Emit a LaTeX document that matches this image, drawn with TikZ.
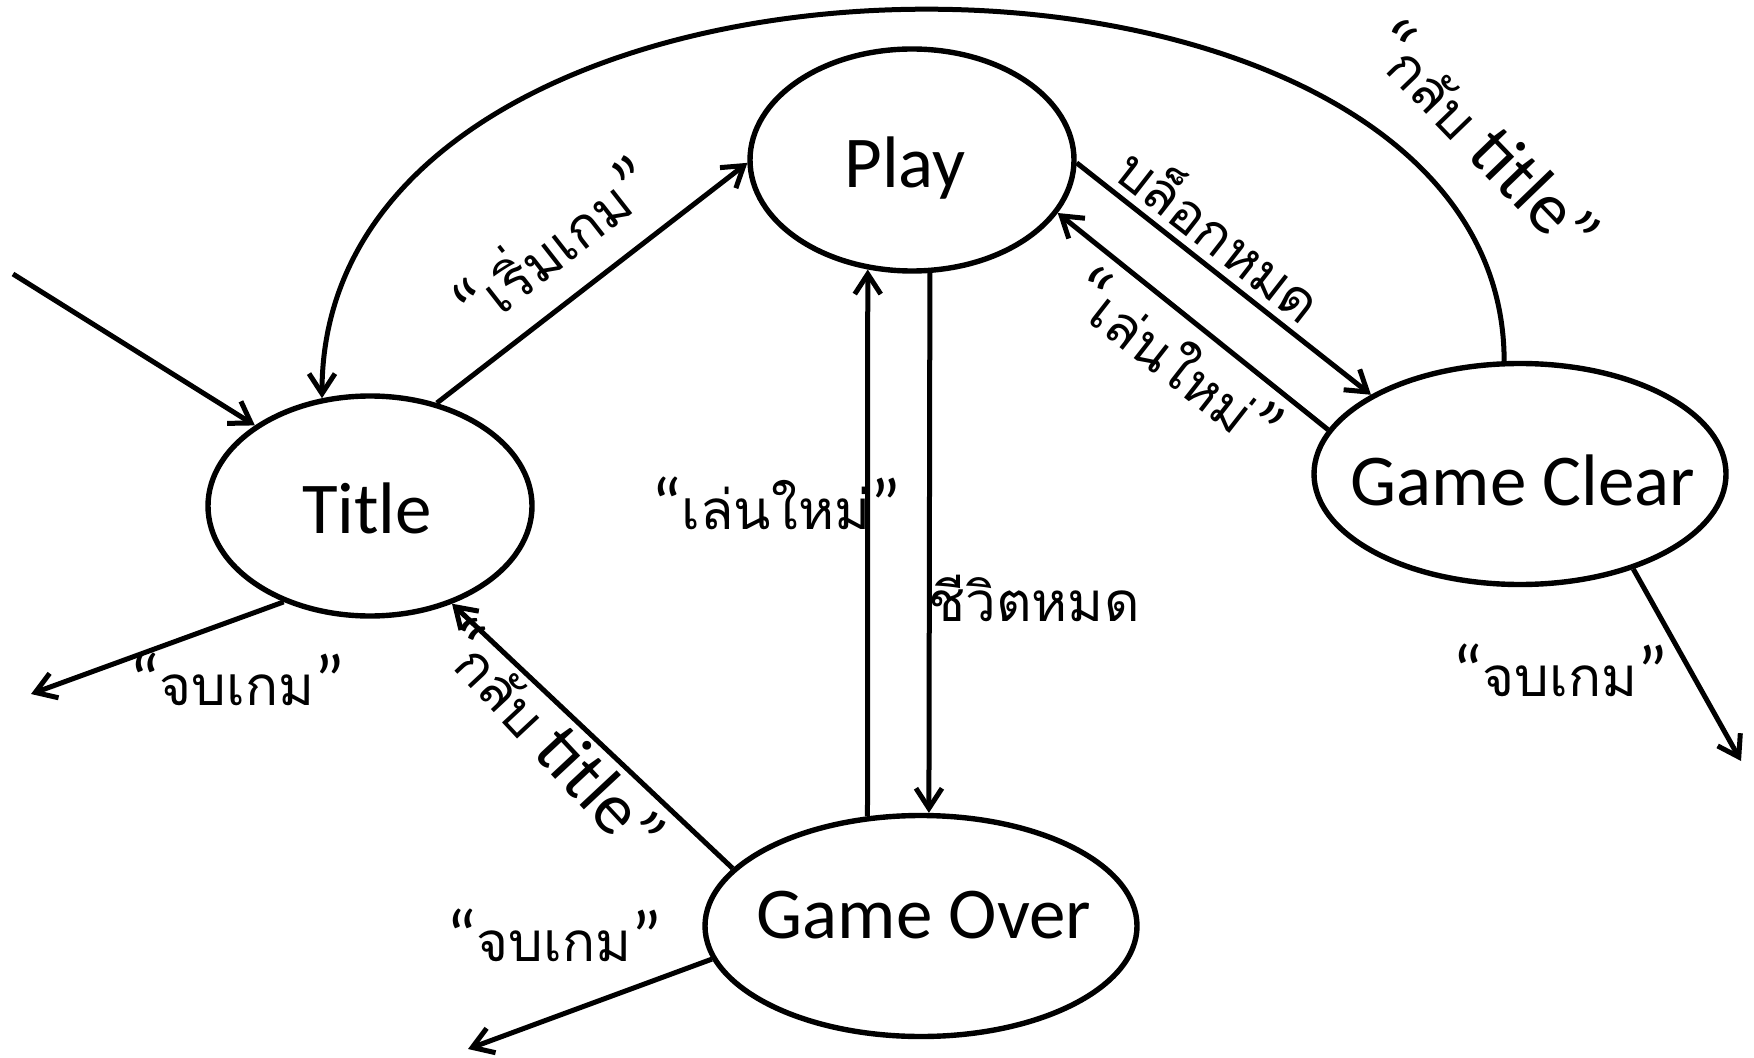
\documentclass[tikz,border=0pt]{standalone}
\usepackage{fontspec}
\setmainfont{Carlito}
\newfontfamily\thaif[Script=Thai,Scale=0.75]{Loma}
\usetikzlibrary{arrows.meta,shapes.geometric}
\begin{document}
\begin{tikzpicture}[x=0.5pt,y=-0.5pt,
  state/.style={draw,ellipse,line width=2.7pt,inner sep=0pt},
  stxt/.style={font=\fontsize{36.5}{40}\selectfont,anchor=base,inner sep=0pt},
  lbl/.style={font=\fontsize{36.5}{40}\selectfont,inner sep=0pt},
  conn/.style={line width=2.5pt,-{Straight Barb[length=10pt,width=13pt]}}]
\useasboundingbox (0,0) rectangle (1754,1058);
% states
\node[state,minimum width=162pt,minimum height=110pt] (title) at (370,506) {};
\node[state,minimum width=162pt,minimum height=111pt] (play) at (912,160) {};
\node[state,minimum width=206pt,minimum height=110.5pt] (gc) at (1520,474) {};
\node[state,minimum width=216pt,minimum height=110.5pt] (go) at (921,926) {};
\node[stxt] (titlet) at (367,533) {Title};
\node[stxt] (playt) at (905,188) {Play};
\node[stxt] (gct) at (1523,505) {Game Clear};
\node[stxt] (got) at (924,938) {Game Over};
% free ends
\coordinate (start) at (13,274);
\coordinate (e1) at (31,694);
\coordinate (e2) at (1741,761);
\coordinate (e3) at (468,1049);
% connectors
\draw[conn] (start) -- (title.145);
\draw[conn] (gc.98) .. controls (1504,-113) and (322,-113) .. (title.114);
\draw[conn] (title.57) -- (play.181);
\draw[conn] (play.-1) -- (gc.152);
\draw[conn] (gc.167) -- (play.-20);
\draw[conn] (play.-81.9) -- (go.86.4);
\draw[conn] (go.116) -- (play.-112);
\draw[conn] (go.163) -- (title.-50);
\draw[conn] (title.-132.5) -- (e1);
\draw[conn] (gc.-40) -- (e2);
\draw[conn] (go.189) -- (e3);
% labels
\node[lbl,rotate=38] (l1) at (552,241) {“{\thaif เริ่มเกม}”};
\node[lbl,rotate=-38] (l2) at (1222,232) {{\thaif บล็อกหมด}};
\node[lbl,rotate=-38] (l3) at (1176,358) {“{\thaif เล่นใหม่}”};
\node[lbl,rotate=-46] (l4) at (1484,137) {“{\thaif กลับ} title”};
\node[lbl] (l5) at (776,503) {“{\thaif เล่นใหม่}”};
\node[lbl] (l6) at (1034,598) {{\thaif ชีวิตหมด}};
\node[lbl,rotate=-47] (l7) at (551,736) {“{\thaif กลับ} title”};
\node[lbl] (l8) at (237,679) {“{\thaif จบเกม}”};
\node[lbl] (l9) at (554,935) {“{\thaif จบเกม}”};
\node[lbl] (l10) at (1560,670) {“{\thaif จบเกม}”};
\end{tikzpicture}
\end{document}
